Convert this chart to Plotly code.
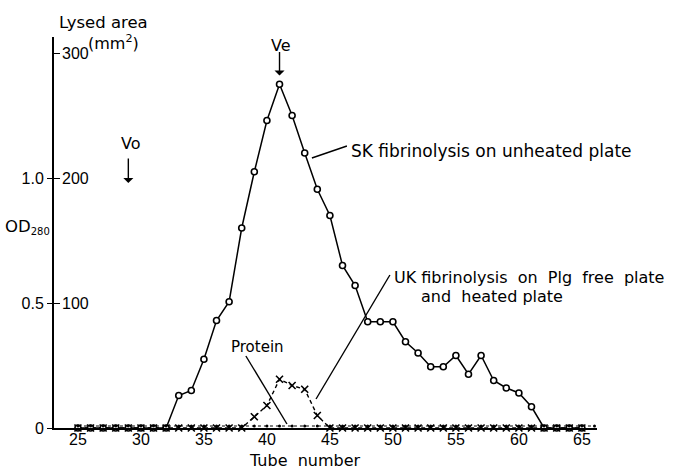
import plotly.graph_objects as go

# Tube numbers and measured values
tubes = list(range(25, 67))

# SK fibrinolysis on unheated plate: lysed area (mm^2)
sk_tubes = list(range(25, 66))
sk_area = [0, 0, 0, 0, 0, 0, 0, 0,           # 25-32
           26, 30, 55, 86, 101, 160, 205, 246, 275,   # 33-41
           250, 220, 191, 170, 130, 114, 85, 85, 85,  # 42-50
           69, 60, 49, 49, 58, 43, 58, 38, 32, 28,    # 51-60
           17, 0, 0, 0, 0]                            # 61-65

# UK fibrinolysis on Plg free plate and heated plate: lysed area (mm^2)
uk_tubes = list(range(25, 66))
uk_area = [0] * 14 + [9, 18, 39, 34, 31, 10] + [0] * 21   # 25-38 zero, 39-44, 45-65 zero

# Protein: OD280
protein_od = [0.008] * len(tubes)

x_ticks = [25, 30, 35, 40, 45, 50, 55, 60, 65]
area_ticks = [100, 200, 300]
area_labels = ["100", "200", "300"]
od_ticks = [0, 0.5, 1.0]
od_labels = ["0", "0.5", "1.0"]

TICK_FONT = "Liberation Sans"
TEXT_FONT = "DejaVu Sans"
x_range = [23.1, 66.2]
area_range = [0, 312.8]
od_range = [0, 312.8 / 200]   # 1.0 OD = 200 mm^2

fig = go.Figure()

# protein, dotted on the OD scale
fig.add_trace(go.Scatter(
    x=tubes, y=protein_od, yaxis="y2", mode="lines+markers",
    line=dict(color="black", width=1, dash="dot"),
    marker=dict(symbol="circle", size=3, color="black"),
    showlegend=False, cliponaxis=False))

# UK curve, dashed with x markers
fig.add_trace(go.Scatter(
    x=uk_tubes, y=uk_area, mode="lines+markers",
    line=dict(color="black", width=1.4, dash="4px,3px"),
    marker=dict(symbol="x-thin-open", size=7, line=dict(color="black", width=1.6)),
    showlegend=False, cliponaxis=False))

# SK curve, solid with open circles
fig.add_trace(go.Scatter(
    x=sk_tubes, y=sk_area, mode="lines+markers",
    line=dict(color="black", width=1.5),
    marker=dict(symbol="circle", size=6, color="white", line=dict(color="black", width=1.6)),
    showlegend=False, cliponaxis=False))


def txt(text, x, y, size, xanchor="center", paper=False, family=TEXT_FONT):
    d = dict(text=text, x=x, y=y, xanchor=xanchor, yanchor="middle",
             showarrow=False, font=dict(size=size, family=family))
    if paper:
        d.update(xref="paper", yref="paper")
    return d


annotations = [
    txt("Lysed area", 0.092, 1.038, 16.5, paper=True),
    txt("(mm<sup>2</sup>)", 0.110, 0.987, 16, paper=True),
    txt("OD<sub><span style='font-size:10px'>280</span></sub>", -0.048, 0.514, 16.5, paper=True),
    txt("Tube  number", 0.462, -0.084, 16, paper=True),
    txt("Vo", 29.25, 228, 16),
    dict(text="", x=29, y=196, ax=0, ay=-26, showarrow=True,
         arrowhead=1, arrowsize=1.2, arrowwidth=1.4, arrowcolor="black"),
    txt("Ve", 41.1, 306, 16),
    dict(text="", x=41, y=282, ax=0, ay=-25, showarrow=True,
         arrowhead=1, arrowsize=1.2, arrowwidth=1.4, arrowcolor="black"),
    txt("SK fibrinolysis on unheated plate", 46.55, 222, 17, xanchor="left"),
    txt("UK fibrinolysis  on  Plg  free  plate", 49.9, 120.5, 16, xanchor="left"),
    txt("and  heated plate", 52.1, 105.5, 16, xanchor="left"),
    txt("Protein", 37.0, 65, 15, xanchor="left"),
]

# lysed-area scale labels, just right of the axis
for v, lab in zip(area_ticks, area_labels):
    annotations.append(dict(text=lab, x=0, xref="paper", y=v, yref="y",
                            xanchor="left", yanchor="middle", xshift=6,
                            showarrow=False, font=dict(size=16, family=TICK_FONT)))

# leader lines from labels to curves
leaders = [
    (43.57, 216, 46.35, 225.6),
    (49.76, 122.4, 43.9, 23.2),
    (38.33, 57.6, 41.59, 3.2),
]
shapes = [dict(type="line", x0=a, y0=b, x1=c, y1=d, xref="x", yref="y",
               line=dict(color="black", width=1.4)) for a, b, c, d in leaders]

fig.update_layout(
    width=680, height=471,
    margin=dict(l=54, r=83, t=37, b=43),
    paper_bgcolor="white", plot_bgcolor="white",
    font=dict(family=TICK_FONT, size=16, color="black"),
    annotations=annotations, shapes=shapes,
    xaxis=dict(range=x_range, tickvals=x_ticks, showgrid=False, zeroline=False,
               showline=True, linecolor="black", linewidth=1.5, ticks="",
               ticklabelstandoff=-4, tickfont=dict(size=16, family=TICK_FONT)),
    yaxis=dict(range=area_range, tickvals=area_ticks, showgrid=False, zeroline=False,
               showline=True, linecolor="black", linewidth=2,
               ticks="inside", ticklen=6, tickwidth=1.4, tickcolor="black",
               showticklabels=False),
    yaxis2=dict(range=od_range, tickvals=od_ticks, ticktext=od_labels, overlaying="y",
                side="left", showgrid=False, zeroline=False, showline=False,
                ticks="outside", ticklen=6, tickwidth=1.4, tickcolor="black",
                tickfont=dict(size=16, family=TICK_FONT)),
)

fig.write_html("out.html")
